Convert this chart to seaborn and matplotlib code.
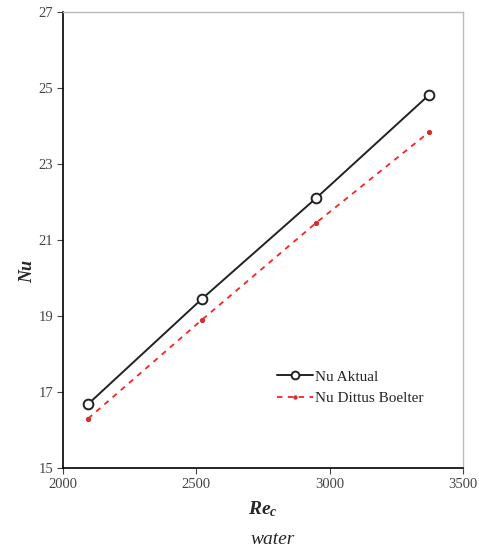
import matplotlib
matplotlib.use("Agg")
import matplotlib.pyplot as plt
import seaborn as sns

# data
re_c = [2094, 2521, 2949, 3373]
nu_aktual = [16.68, 19.45, 22.10, 24.82]
nu_dittus = [16.30, 18.90, 21.45, 23.84]

sns.set_theme(style="white")
plt.rcParams['font.family'] = ['Liberation Serif', 'DejaVu Serif']
plt.rcParams['mathtext.fontset'] = 'custom'
plt.rcParams['mathtext.it'] = 'Liberation Serif:italic:bold'
plt.rcParams['mathtext.rm'] = 'Liberation Serif:bold'

fig = plt.figure(figsize=(4.79, 5.58), dpi=100)
ax = fig.add_axes([0.1315, 0.1613, 0.8351, 0.8172])

sns.lineplot(x=re_c, y=nu_aktual, ax=ax, color='#222222', linewidth=1.4,
             marker='o', markersize=7, markerfacecolor='white',
             markeredgecolor='#222222', markeredgewidth=1.4, label='Nu Aktual')
sns.lineplot(x=re_c, y=nu_dittus, ax=ax, color='#ff2020', linewidth=1.3,
             linestyle=(0, (3, 3)), marker='o', markersize=3,
             markerfacecolor='#d03030', markeredgecolor='#d03030',
             label='Nu Dittus Boelter')

ax.set_xlim(2000, 3500)
ax.set_ylim(15, 27)
ax.set_xticks([2000, 2500, 3000, 3500])
ax.set_yticks([15, 17, 19, 21, 23, 25, 27])
ax.tick_params(axis='both', direction='out', length=4, width=0.8,
               color='#444444', labelsize=10.5, labelcolor='#444444', pad=3)
ax.tick_params(bottom=True, left=True)

for side in ['left', 'bottom']:
    ax.spines[side].set_color('black')
    ax.spines[side].set_linewidth(1.2)
for side in ['top', 'right']:
    ax.spines[side].set_color('#bbbbbb')
    ax.spines[side].set_linewidth(1.0)

ax.set_ylabel('Nu', fontsize=13, fontweight='bold', fontstyle='italic')
ax.yaxis.set_label_coords(-0.067, 0.43)
ax.set_xlabel(r'$Re_c$', fontsize=14, labelpad=6)

ax.legend(loc='upper left', bbox_to_anchor=(0.5, 0.245), frameon=False,
          fontsize=11, handlelength=2.4, handletextpad=0.1, labelspacing=0.5,
          markerscale=0.8)

fig.text(0.57, 0.025, 'water', fontsize=14, fontstyle='italic', ha='center')

plt.savefig("out.png", dpi=100)
